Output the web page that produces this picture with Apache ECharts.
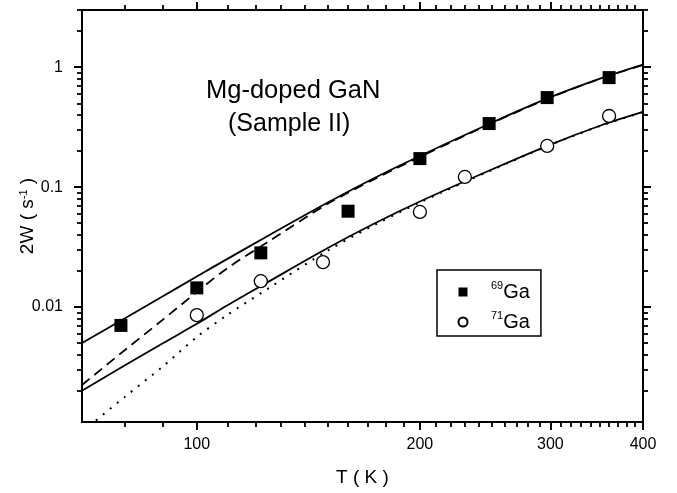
<!DOCTYPE html>
<html>
<head>
<meta charset="utf-8">
<script src="https://cdn.jsdelivr.net/npm/echarts@6/dist/echarts.min.js"></script>
<style>
  html, body { margin: 0; padding: 0; background: #fff; }
  #chart { width: 677px; height: 493px; }
</style>
</head>
<body>
<div id="chart"></div>
<script>
// Temperatures (K) at which the model curves are tabulated
const tFit = [70, 80, 90, 100, 110, 125, 150, 175, 200, 250, 300, 350, 400];
// 69Ga: full model (solid) and model without the low-T term (dashed)
const fit69Solid  = [0.005012, 0.008054, 0.0123, 0.01799, 0.02523, 0.03954, 0.0741, 0.1222, 0.182, 0.3443, 0.5623, 0.8035, 1.0495];
const fit69Dashed = [0.002239, 0.004385, 0.007852, 0.01334, 0.02113, 0.03524, 0.07228, 0.1195, 0.1786, 0.3412, 0.5585, 0.7998, 1.0447];
// 71Ga: full model (solid) and model without the low-T term (dotted)
const fit71Solid  = [0.002004, 0.003266, 0.004989, 0.007244, 0.01035, 0.01629, 0.0309, 0.05093, 0.07586, 0.1403, 0.2265, 0.3251, 0.4236];
const fit71Dotted = [0.000912, 0.001786, 0.0032, 0.005623, 0.00861, 0.01436, 0.02944, 0.04955, 0.0745, 0.139, 0.2249, 0.3236, 0.4217];

// Measured relaxation rates 2W (1/s)
const t69 = [79, 100, 122, 160, 200, 248, 297, 360];
const w69 = [0.00703, 0.01445, 0.0283, 0.063, 0.173, 0.339, 0.558, 0.819];
const t71 = [100, 122, 148, 200, 230, 297, 360];
const w71 = [0.00856, 0.01643, 0.0237, 0.0621, 0.1216, 0.2205, 0.392];

const isotopes = ['69', '71'];
const seriesNames = ['69Ga', '71Ga'];

// Axis ranges and labelled ticks
const xMin = 70, xMax = 400;
const yMin = 0.0011, yMax = 3;
const xTicks = [100, 200, 300, 400];
const xTickLabels = ['100', '200', '300', '400'];
const yTicks = [0.01, 0.1, 1];
const yTickLabels = ['0.01', '0.1', '1'];

// Unlabelled minor ticks: every 10 K, and 2..9 within each decade
function minorXTicks() {
  const out = [];
  for (let t = 80; t < xMax; t += 10) if (t % 100 !== 0) out.push(t);
  return out;
}
function minorYTicks() {
  const out = [];
  [0.001, 0.01, 0.1, 1].forEach(function (d) {
    for (let k = 2; k <= 9; k++) {
      const v = +(k * d).toPrecision(3);
      if (v >= yMin && v <= yMax) out.push(v);
    }
  });
  return out;
}

function zip(xs, ys) { return xs.map(function (x, i) { return [x, ys[i]]; }); }
function lookupLabel(ticks, labels) {
  return function (v) {
    for (let i = 0; i < ticks.length; i++) {
      if (Math.abs(v - ticks[i]) / ticks[i] < 1e-6) return labels[i];
    }
    return '';
  };
}

const FONT = "'Liberation Sans', Arial, Helvetica, sans-serif";
const BLACK = '#000';

function axisDef(kind, opts) {
  const isX = kind === 'x';
  return Object.assign({
    type: 'log',
    logBase: 10,
    min: isX ? xMin : yMin,
    max: isX ? xMax : yMax,
    offset: 0,
    splitLine: { show: false },
    minorTick: { show: false },
    minorSplitLine: { show: false },
    axisLine: { show: true, onZero: false, lineStyle: { color: BLACK, width: 2 } },
    axisTick: { show: true, inside: false, length: 8, customValues: opts.ticks, lineStyle: { color: BLACK, width: 2 } },
    axisLabel: { show: false },
    silent: true
  }, opts.extra || {});
}

function minorAxis(kind, position, ticks) {
  return axisDef(kind, { ticks: ticks, extra: {
    position: position,
    axisLine: { show: false },
    axisTick: { show: true, length: 5, customValues: ticks, lineStyle: { color: BLACK, width: 1.8 } }
  } });
}

const chart = echarts.init(document.getElementById('chart'), null, { renderer: 'canvas' });

const option = {
  animation: false,
  backgroundColor: '#fff',
  textStyle: { fontFamily: FONT, color: BLACK },
  grid: { left: 82, right: 34, top: 10, bottom: 71, containLabel: false, outerBoundsMode: 'none' },
  title: [
    { text: 'Mg-doped GaN', left: 206, top: 78, padding: 0,
      textStyle: { fontFamily: FONT, fontSize: 25.5, fontWeight: 'normal', color: BLACK } },
    { text: '(Sample II)', left: 228, top: 112, padding: 0,
      textStyle: { fontFamily: FONT, fontSize: 25, fontWeight: 'normal', color: BLACK } }
  ],
  legend: {
    data: [
      { name: seriesNames[0], icon: 'rect' },
      { name: seriesNames[1], icon: 'circle' }
    ],
    orient: 'vertical',
    left: 437,
    top: 270,
    padding: [10, 11, 4, 20.5],
    itemGap: 8,
    itemWidth: 9,
    itemHeight: 9,
    selectedMode: false,
    borderColor: BLACK,
    borderWidth: 1.5,
    borderRadius: 0,
    backgroundColor: '#fff',
    itemStyle: { opacity: 1 },
    formatter: function (name) {
      const iso = isotopes[seriesNames.indexOf(name)];
      return '{sp|}{sup|' + iso + '}{ga|Ga}';
    },
    textStyle: {
      fontFamily: FONT,
      color: BLACK,
      rich: {
        sp: { width: 18.5, lineHeight: 24 },
        sup: { fontFamily: FONT, fontSize: 11, lineHeight: 9, verticalAlign: 'top', color: BLACK },
        ga: { fontFamily: FONT, fontSize: 20, lineHeight: 24, verticalAlign: 'middle', color: BLACK }
      }
    }
  },
  xAxis: [
    axisDef('x', { ticks: xTicks, extra: {
      position: 'bottom',
      name: 'T ( K )',
      nameLocation: 'middle',
      nameGap: 46,
      nameMoveOverlap: false,
      nameTextStyle: { fontFamily: FONT, fontSize: 19, color: BLACK },
      axisLabel: { show: true, customValues: xTicks, formatter: lookupLabel(xTicks, xTickLabels),
        fontFamily: FONT, fontSize: 16, color: BLACK, margin: 15 }
    } }),
    minorAxis('x', 'bottom', minorXTicks()),
    axisDef('x', { ticks: xTicks.slice(0, 3), extra: { position: 'top' } }),
    minorAxis('x', 'top', minorXTicks())
  ],
  yAxis: [
    axisDef('y', { ticks: yTicks, extra: {
      position: 'left',
      name: '2W ( s{sup|-1} )',
      nameLocation: 'middle',
      nameRotate: 90,
      nameGap: 45,
      nameMoveOverlap: false,
      nameTextStyle: { fontFamily: FONT, fontSize: 19, color: BLACK,
        rich: { sup: { fontFamily: FONT, fontSize: 11, lineHeight: 9, verticalAlign: 'top', color: BLACK } } },
      axisLabel: { show: true, customValues: yTicks, formatter: lookupLabel(yTicks, yTickLabels),
        fontFamily: FONT, fontSize: 16, color: BLACK, margin: 19 }
    } }),
    minorAxis('y', 'left', minorYTicks()),
    axisDef('y', { ticks: yTicks, extra: { position: 'right' } }),
    minorAxis('y', 'right', minorYTicks())
  ],
  series: [
    { name: 'fit69', type: 'line', data: zip(tFit, fit69Solid), showSymbol: false, symbol: 'none', smooth: 0.3, clip: true, silent: true,
      lineStyle: { color: BLACK, width: 1.8, type: 'solid' }, z: 2 },
    { name: 'fit69b', type: 'line', data: zip(tFit, fit69Dashed), showSymbol: false, symbol: 'none', smooth: 0.3, clip: true, silent: true,
      lineStyle: { color: BLACK, width: 1.8, type: [10, 6] }, z: 2 },
    { name: 'fit71', type: 'line', data: zip(tFit, fit71Solid), showSymbol: false, symbol: 'none', smooth: 0.3, clip: true, silent: true,
      lineStyle: { color: BLACK, width: 1.8, type: 'solid' }, z: 2 },
    { name: 'fit71b', type: 'line', data: zip(tFit, fit71Dotted), showSymbol: false, symbol: 'none', smooth: 0.3, clip: true, silent: true,
      lineStyle: { color: BLACK, width: 2, type: [2, 7] }, z: 2 },
    { name: seriesNames[0], type: 'scatter', data: zip(t69, w69), symbol: 'rect', symbolSize: 13, clip: true,
      itemStyle: { color: BLACK, opacity: 1 }, z: 4 },
    { name: seriesNames[1], type: 'scatter', data: zip(t71, w71), symbol: 'circle', symbolSize: 13, clip: true,
      itemStyle: { color: '#fff', borderColor: BLACK, borderWidth: 1.3, opacity: 1 }, z: 4 }
  ]
};

chart.setOption(option);
</script>
</body>
</html>
